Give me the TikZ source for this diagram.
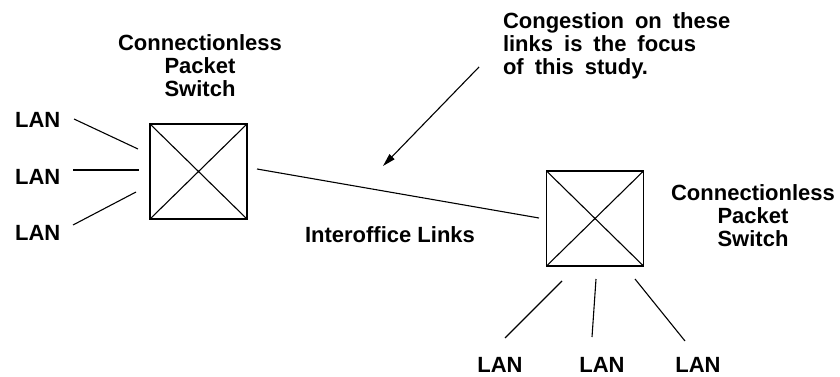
\documentclass[tikz,border=0pt]{standalone}
\usepackage{fontspec}
\setmainfont{Liberation Sans}
\usetikzlibrary{arrows.meta}

\begin{document}
\begin{tikzpicture}[x=1pt, y=-1pt,
  lbl/.style={font=\fontsize{22}{23}\selectfont\bfseries, inner sep=0pt, outer sep=0pt, anchor=base},
  widespaced/.style={font=\fontsize{22}{23.3}\selectfont\bfseries,
    execute at begin node={\spaceskip=11pt\relax}},
  switchbox/.style={draw, line width=1.1pt, minimum width=97pt, minimum height=95pt, inner sep=0pt, outer sep=0pt},
  wire/.style={line width=1.1pt},
  pointer/.style={line width=1.1pt, -{Triangle[length=13pt, width=7pt]}}]

  \useasboundingbox (0,0) rectangle (840,377);

  % packet switches
  \node[switchbox] (swL) at (198.5,171.5) {};
  \node[switchbox] (swR) at (595,218.5) {};
  \foreach \s in {swL,swR} {
    \draw[wire] (\s.north west) -- (\s.south east);
    \draw[wire] (\s.north east) -- (\s.south west);
  }

  % switch titles (base anchor sits on the last line)
  \node[lbl, align=center] (tL) at (200,96.5) {Connectionless\\Packet\\Switch};
  \node[lbl, align=center] (tR) at (753,246) {Connectionless\\Packet\\Switch};

  % left LANs
  \node[lbl] (lan1) at (37.7,128) {LAN};
  \node[lbl] (lan2) at (37.7,184) {LAN};
  \node[lbl] (lan3) at (37.7,240) {LAN};
  % bottom LANs
  \node[lbl] (lan4) at (500,372) {LAN};
  \node[lbl] (lan5) at (602,372) {LAN};
  \node[lbl] (lan6) at (698,372) {LAN};

  % access line ends
  \coordinate (a1) at (74,119);  \coordinate (b1) at (138,149);
  \coordinate (a2) at (73,170);  \coordinate (b2) at (139,170);
  \coordinate (a3) at (73,225);  \coordinate (b3) at (136,192);
  \coordinate (a4) at (505,338); \coordinate (b4) at (562,281);
  \coordinate (a5) at (592,337); \coordinate (b5) at (596,279);
  \coordinate (a6) at (685,341); \coordinate (b6) at (635,279);
  \foreach \i in {1,...,6} \draw[wire] (a\i) -- (b\i);

  % interoffice link
  \coordinate (linkA) at (257,169);
  \coordinate (linkB) at (539,218);
  \draw[wire] (linkA) -- (linkB);
  \node[lbl] (links) at (390,242) {Interoffice Links};

  % annotation
  \node[lbl, widespaced, align=left, anchor=base west] (note) at (503,75)
    {Congestion on these\\links is the focus\\of this study.};
  \coordinate (tip) at (383,166);
  \coordinate (tail) at (479,67);
  \draw[pointer] (tail) -- (tip);
\end{tikzpicture}
\end{document}
